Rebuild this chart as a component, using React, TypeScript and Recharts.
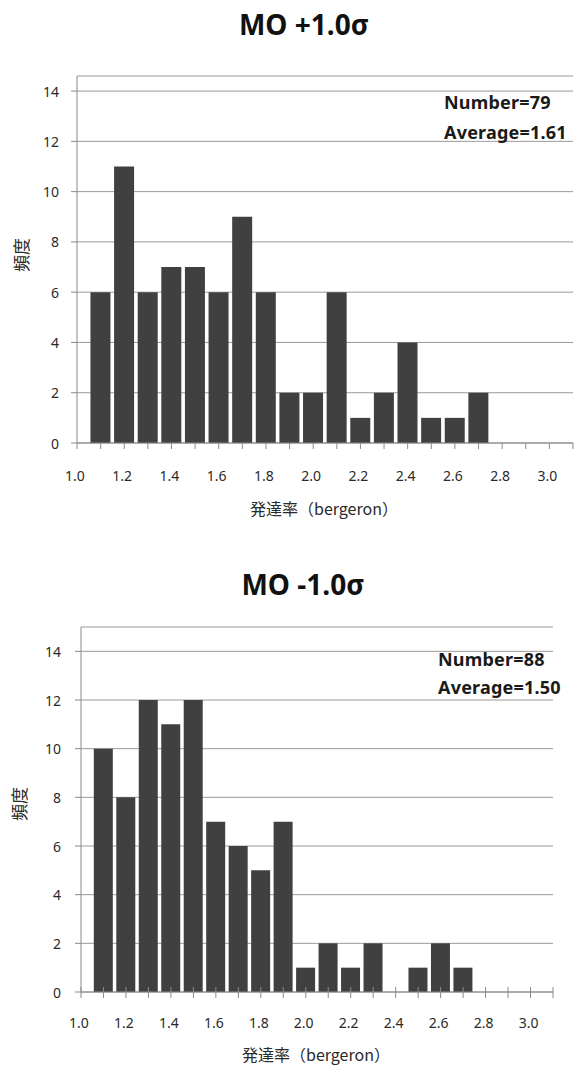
import React from 'react';
import { BarChart, Bar, XAxis, YAxis, CartesianGrid } from 'recharts';

// bin centres (発達率, bergeron)
const binCenters = [1.1, 1.2, 1.3, 1.4, 1.5, 1.6, 1.7, 1.8, 1.9, 2.0, 2.1, 2.2, 2.3, 2.4, 2.5, 2.6, 2.7];
// frequency, MO +1.0σ
const plusFreq = [6, 11, 6, 7, 7, 6, 9, 6, 2, 2, 6, 1, 2, 4, 1, 1, 2];
// frequency, MO -1.0σ
const minusFreq = [10, 8, 12, 11, 12, 7, 6, 5, 7, 1, 2, 1, 2, 0, 1, 2, 1];

const xTicks = [1.0, 1.1, 1.2, 1.3, 1.4, 1.5, 1.6, 1.7, 1.8, 1.9, 2.0, 2.1, 2.2, 2.3, 2.4, 2.5, 2.6, 2.7, 2.8, 2.9, 3.0, 3.1];
const xTickLabels = ['1.0', '1.2', '1.4', '1.6', '1.8', '2.0', '2.2', '2.4', '2.6', '2.8', '3.0'];
const yTicks = [0, 2, 4, 6, 8, 10, 12, 14];

const plusTitle = 'MO +1.0σ';
const minusTitle = 'MO -1.0σ';
const plusStats = ['Number=79', 'Average=1.61'];
const minusStats = ['Number=88', 'Average=1.50'];
const xTitle = '発達率（bergeron）';
const yTitle = '頻度';

const plusData = binCenters.map((x, i) => ({ x, v: plusFreq[i] }));
const minusData = binCenters.map((x, i) => ({ x, v: minusFreq[i] }));

const FONT = '"Noto Sans", "Noto Sans CJK JP", sans-serif';
const CJK = '"Noto Sans CJK JP", "Noto Sans", sans-serif';
const BAR = '#404040';
const GRID = '#9a9a9a';
const AXIS = '#8a8a8a';
const LABEL = '#2a2a2a';

const makeXTick = (cross: boolean, labelOffset: number) => (props: any) => {
  const { x, y, payload } = props;
  const txt = Number(payload.value).toFixed(1);
  const show = xTickLabels.includes(txt);
  return (
    <g>
      <line x1={x} x2={x} y1={cross ? y - 5 : y} y2={y + 6} stroke={AXIS} strokeWidth={1} />
      {show && (
        <text x={x - 2} y={y + labelOffset} textAnchor="middle" dominantBaseline="central"
          fontFamily={FONT} fontSize={14} fill={LABEL}>{txt}</text>
      )}
    </g>
  );
};

const makeYTick = (labelGap: number) => (props: any) => {
  const { x, y, payload } = props;
  return (
    <g>
      <line x1={x - 6} x2={x} y1={y} y2={y} stroke={AXIS} strokeWidth={1} />
      <text x={x - labelGap} y={y} textAnchor="end" dominantBaseline="central"
        fontFamily={FONT} fontSize={14} fill={LABEL}>{payload.value}</text>
    </g>
  );
};

type PanelProps = {
  top: number;
  height: number;
  data: { x: number; v: number }[];
  yMax: number;
  margin: { top: number; right: number; bottom: number; left: number };
  yWidth: number;
  xHeight: number;
  crossTicks: boolean;
  labelOffset: number;
  labelGap: number;
};

function Panel(p: PanelProps) {
  return (
    <div style={{ position: 'absolute', left: 0, top: p.top, width: 574, height: p.height }}>
      <BarChart width={574} height={p.height} data={p.data} margin={p.margin} barCategoryGap="7%">
        <CartesianGrid horizontal vertical={false} stroke={GRID} strokeWidth={1} />
        <XAxis
          dataKey="x"
          type="number"
          domain={[1.0, 3.1]}
          ticks={xTicks}
          allowDataOverflow
          interval={0}
          height={p.xHeight}
          tickSize={0}
          tickMargin={0}
          tickLine={false}
          axisLine={{ stroke: AXIS }}
          tick={makeXTick(p.crossTicks, p.labelOffset)}
        />
        <YAxis
          type="number"
          domain={[0, p.yMax]}
          ticks={yTicks}
          allowDataOverflow
          interval={0}
          width={p.yWidth}
          tickSize={0}
          tickMargin={0}
          tickLine={false}
          axisLine={{ stroke: AXIS }}
          tick={makeYTick(p.labelGap)}
        />
        <Bar dataKey="v" fill={BAR} isAnimationActive={false} />
      </BarChart>
    </div>
  );
}

const abs = (style: React.CSSProperties): React.CSSProperties => ({ position: 'absolute', whiteSpace: 'nowrap', ...style });
const statStyle = (left: number, top: number): React.CSSProperties =>
  abs({ left, top, transform: 'translateY(-50%)', fontFamily: FONT, fontWeight: 700, fontSize: 18, letterSpacing: 0.2, color: '#1a1a1a' });

export default function App() {
  return (
    <div style={{ position: 'absolute', left: 0, top: 0, width: 574, height: 1065, background: '#fff', overflow: 'hidden' }}>
      {/* top panel */}
      <div style={abs({ left: 0, width: 608, top: 24, transform: 'translateY(-50%)', textAlign: 'center', fontFamily: FONT, fontWeight: 700, fontSize: 28, color: '#111' })}>{plusTitle}</div>
      <Panel top={0} height={530} data={plusData} yMax={14.6}
        margin={{ top: 76, right: 1, bottom: 0, left: 0 }} yWidth={77} xHeight={87}
        crossTicks={false} labelOffset={32} labelGap={18} />
      <div style={statStyle(444, 102)}>{plusStats[0]}</div>
      <div style={statStyle(444, 132)}>{plusStats[1]}</div>
      <div style={abs({ left: 0, width: 648, top: 508, transform: 'translateY(-50%)', textAlign: 'center', fontFamily: CJK, fontSize: 16, color: LABEL })}>{xTitle}</div>
      <div style={abs({ left: 20, top: 255, transform: 'translate(-50%, -50%) rotate(-90deg)', fontFamily: CJK, fontSize: 17, color: LABEL })}>{yTitle}</div>

      {/* bottom panel */}
      <div style={abs({ left: 0, width: 606, top: 584, transform: 'translateY(-50%)', textAlign: 'center', fontFamily: FONT, fontWeight: 700, fontSize: 28, color: '#111' })}>{minusTitle}</div>
      <Panel top={540} height={525} data={minusData} yMax={15}
        margin={{ top: 87, right: 21, bottom: 0, left: 0 }} yWidth={81} xHeight={73}
        crossTicks={true} labelOffset={30} labelGap={20} />
      <div style={statStyle(438, 659)}>{minusStats[0]}</div>
      <div style={statStyle(438, 687)}>{minusStats[1]}</div>
      <div style={abs({ left: 0, width: 632, top: 1054, transform: 'translateY(-50%)', textAlign: 'center', fontFamily: CJK, fontSize: 16, color: LABEL })}>{xTitle}</div>
      <div style={abs({ left: 18, top: 804, transform: 'translate(-50%, -50%) rotate(-90deg)', fontFamily: CJK, fontSize: 17, color: LABEL })}>{yTitle}</div>
    </div>
  );
}
